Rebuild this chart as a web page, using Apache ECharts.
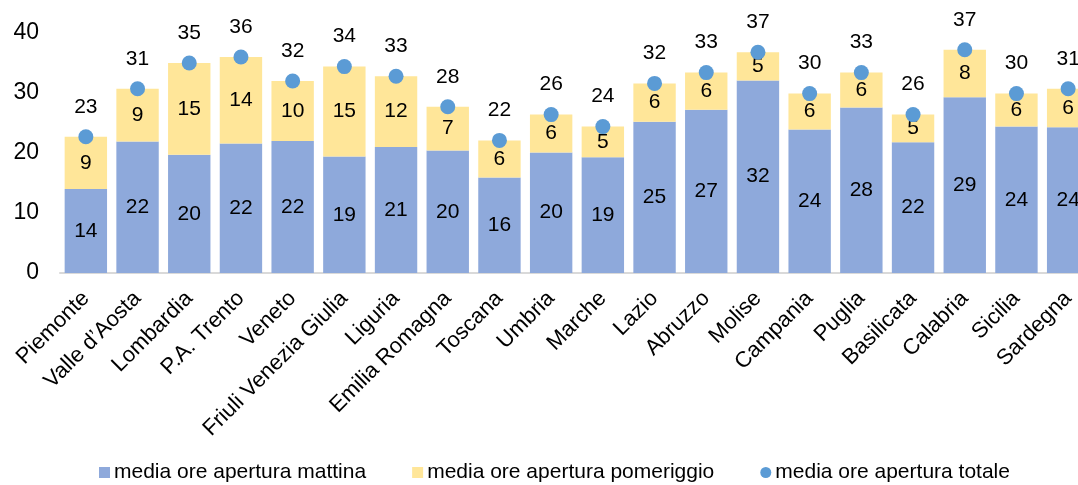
<!DOCTYPE html>
<html>
<head>
<meta charset="utf-8">
<script src="https://cdn.jsdelivr.net/npm/echarts@6/dist/echarts.min.js"></script>
<style>
html,body{margin:0;padding:0;background:#fff;}
#c{width:1078px;height:485px;}
</style>
</head>
<body>
<div id="c"></div>
<script>
const categories = ["Piemonte","Valle d’Aosta","Lombardia","P.A. Trento","Veneto","Friuli Venezia Giulia","Liguria","Emilia Romagna","Toscana","Umbria","Marche","Lazio","Abruzzo","Molise","Campania","Puglia","Basilicata","Calabria","Sicilia","Sardegna"];
const mattina = [14.0,21.9,19.7,21.6,22.0,19.4,21.0,20.4,15.9,20.1,19.3,25.2,27.2,32.1,23.9,27.6,21.8,29.3,24.4,24.3];
const pomeriggio = [8.7,8.8,15.3,14.4,10.0,15.0,11.8,7.3,6.2,6.3,5.1,6.4,6.2,4.7,6.0,5.8,4.6,7.9,5.5,6.4];
const totale = [22.7,30.7,35.0,36.0,32.0,34.4,32.8,27.7,22.1,26.4,24.4,31.6,33.4,36.8,29.9,33.4,26.4,37.2,29.9,30.7];
const yTicks = [0,10,20,30,40];
const names = ["media ore apertura mattina","media ore apertura pomeriggio","media ore apertura totale"];

const FONT = "Liberation Sans, Arial, sans-serif";
const chart = echarts.init(document.getElementById('c'), null, {renderer:'canvas'});
const roundFmt = p => String(Math.round(p.value));
chart.setOption({
  animation:false,
  backgroundColor:'#fff',
  textStyle:{fontFamily:FONT},
  grid:{left:60, top:33, width:1034, height:240, containLabel:false, outerBoundsMode:'none'},
  legend:{
    top:457, left:94,
    itemGap:46, itemWidth:11, itemHeight:11,
    textStyle:{fontFamily:FONT, fontSize:21, color:'#000', padding:[0,0,0,-1]},
    data:[{name:names[0], icon:'rect'},{name:names[1], icon:'rect'},{name:names[2], icon:'circle'}]
  },
  xAxis:{
    type:'category', data:categories,
    axisLine:{lineStyle:{color:'#D9D9D9', width:2}},
    axisTick:{show:false},
    axisLabel:{rotate:45, interval:0, fontSize:22, color:'#000', fontFamily:FONT, margin:22}
  },
  yAxis:{
    type:'value', min:yTicks[0], max:yTicks[yTicks.length-1], interval:10,
    splitLine:{show:false}, axisLine:{show:false}, axisTick:{show:false},
    axisLabel:{fontSize:23, color:'#000', fontFamily:FONT, margin:21}
  },
  series:[
    {name:names[0], type:'bar', stack:'t', data:mattina, barCategoryGap:'18%',
     itemStyle:{color:'#8EA9DB'},
     label:{show:true, position:'inside', formatter:roundFmt, fontSize:21, color:'#000', fontFamily:FONT}},
    {name:names[1], type:'bar', stack:'t', data:pomeriggio, barCategoryGap:'18%',
     itemStyle:{color:'#FFE699'},
     label:{show:true, position:'inside', formatter:roundFmt, fontSize:21, color:'#000', fontFamily:FONT}},
    {name:names[2], type:'scatter', data:totale, symbol:'circle', symbolSize:15, z:5,
     itemStyle:{color:'#5B9BD5', opacity:1},
     label:{show:true, position:'top', distance:12, formatter:roundFmt, fontSize:21, color:'#000', fontFamily:FONT}}
  ]
});
</script>
</body>
</html>
